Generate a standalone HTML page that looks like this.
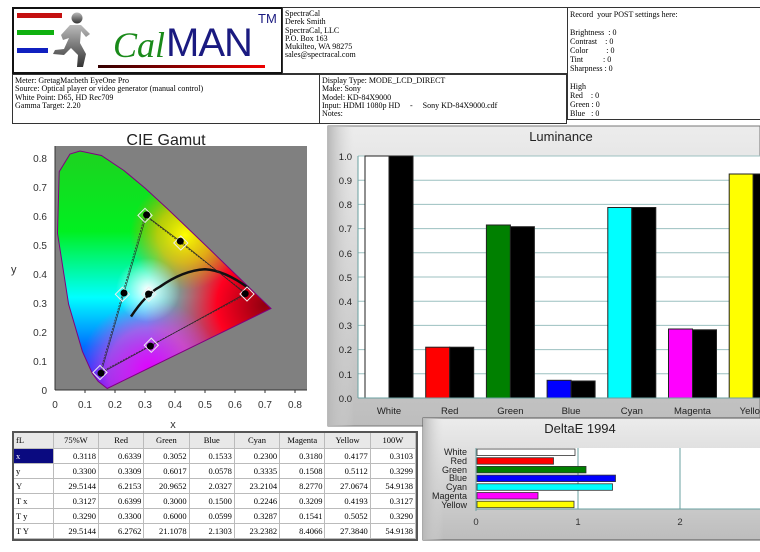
<!DOCTYPE html>
<html><head><meta charset="utf-8"><style>
body{margin:0;width:760px;height:552px;background:#fff;position:relative;overflow:hidden;font-family:"Liberation Serif",serif;}
.box{position:absolute;border:1px solid #333;box-sizing:border-box;font-size:8px;line-height:8.3px;padding:2px 2px;color:#000;white-space:pre;overflow:hidden;}
.r{display:flex;height:15px;line-height:14px;border-bottom:1px solid #bbb;box-sizing:border-box}
.r span{width:45.6px;text-align:right;padding-right:2px;box-sizing:border-box;border-right:1px solid #bbb}
.r span:first-child{width:40px;text-align:left;padding-left:2px}
.h span{text-align:center;padding-right:0}
</style></head><body>
<!-- header boxes -->
<div class="box" style="left:12px;top:7px;width:271px;height:67px;border:2px solid #111;"></div>
<div style="position:absolute;left:17px;top:13px;width:45px;height:5px;background:#c41010"></div>
<div style="position:absolute;left:17px;top:30px;width:37px;height:5px;background:#10b010"></div>
<div style="position:absolute;left:17px;top:48px;width:31px;height:5px;background:#1020c0"></div>
<svg style="position:absolute;left:50px;top:10px" width="45" height="60"><defs><linearGradient id="rg" x1="0" y1="0" x2="0" y2="1"><stop offset="0" stop-color="#bbb"/><stop offset="1" stop-color="#333"/></linearGradient></defs>
<circle cx="27" cy="8" r="5.5" fill="url(#rg)"/><path d="M20 15 L31 15 L40 24 L36 27 L31 21 L30 33 L36 44 L33 57 L27 57 L28 45 L21 38 L14 45 L3 44 L5 40 L14 39 L19 28 L13 30 L11 25 Z" fill="url(#rg)"/></svg>
<div style="position:absolute;left:113px;top:25px;font-family:'Liberation Serif',serif;font-style:italic;font-size:36px;color:#1a8a1a;line-height:40px">Cal</div>
<div style="position:absolute;left:166px;top:21px;font-family:'Liberation Sans',sans-serif;font-size:40px;color:#1a1a80;line-height:44px;letter-spacing:-1px">MAN</div>
<div style="position:absolute;left:258px;top:11px;font-family:'Liberation Sans',sans-serif;font-size:13px;color:#1a1a80">TM</div>
<div style="position:absolute;left:98px;top:65px;width:167px;height:3px;background:linear-gradient(90deg,#300,#e00)"></div>
<div class="box" style="left:282px;top:7px;width:286px;height:67px;">SpectraCal
Derek Smith
SpectraCal, LLC
P.O. Box 163
Mukilteo, WA 98275
sales@spectracal.com</div>
<div class="box" style="left:567px;top:7px;width:193px;height:113px;border-right:none;line-height:9px">Record  your POST settings here:

Brightness  : 0
Contrast    : 0
Color         : 0
Tint          : 0
Sharpness : 0

High
Red    : 0
Green : 0
Blue   : 0</div>
<div class="box" style="left:12px;top:74px;width:308px;height:50px;">Meter: GretagMacbeth EyeOne Pro
Source: Optical player or video generator (manual control)
White Point: D65, HD Rec709
Gamma Target: 2.20</div>
<div class="box" style="left:319px;top:74px;width:248px;height:50px;">Display Type: MODE_LCD_DIRECT
Make: Sony
Model: KD-84X9000
Input: HDMI 1080p HD     -     Sony KD-84X9000.cdf
Notes:</div>

<!-- CIE -->
<svg style="position:absolute;left:0;top:124px" width="325" height="310" font-family="Liberation Sans,sans-serif">
<g transform="translate(0,-124)">
<text x="166" y="145" font-size="16" text-anchor="middle" fill="#222">CIE Gamut</text>
<rect x="55" y="146" width="252" height="244" fill="#808080"/>
<defs>
<clipPath id="hs"><path d="M107.2,388.5 L98.2,381.4 L92.2,373.2 L82.4,351.4 L68.6,304.2 L57.5,233.3 L59.2,171.7 L70,154 L80,151 L101.4,155.5 L123.9,170.5 L145.5,188.5 L166.9,208.3 L188.2,228.6 L208.8,248.4 L227.6,266.6 L243.1,281.6 L254.7,292.8 L271,308.5 Z"/></clipPath>
<linearGradient id="gv" x1="0" y1="0" x2="0" y2="1"><stop offset="0" stop-color="#20d020"/><stop offset="0.35" stop-color="#00f020"/><stop offset="0.62" stop-color="#00ffff"/><stop offset="0.82" stop-color="#0070ff"/><stop offset="1" stop-color="#3000ff"/></linearGradient>
<radialGradient id="gr" cx="265" cy="305" r="120" gradientUnits="userSpaceOnUse"><stop offset="0" stop-color="#900010"/><stop offset="0.4" stop-color="#ff0020"/><stop offset="0.8" stop-color="#ff4040" stop-opacity="0.4"/><stop offset="1" stop-color="#ff4040" stop-opacity="0"/></radialGradient>
<radialGradient id="gm" cx="150" cy="370" r="70" gradientUnits="userSpaceOnUse"><stop offset="0" stop-color="#e000ff"/><stop offset="0.6" stop-color="#ff40e0" stop-opacity="0.6"/><stop offset="1" stop-color="#ff40e0" stop-opacity="0"/></radialGradient>
<radialGradient id="gy" cx="185" cy="235" r="55" gradientUnits="userSpaceOnUse"><stop offset="0" stop-color="#ffff00"/><stop offset="0.5" stop-color="#ffc000" stop-opacity="0.7"/><stop offset="1" stop-color="#ff8000" stop-opacity="0"/></radialGradient>
<radialGradient id="gw" cx="148" cy="290" r="32" gradientUnits="userSpaceOnUse"><stop offset="0" stop-color="#fff"/><stop offset="0.5" stop-color="#fff" stop-opacity="0.5"/><stop offset="1" stop-color="#fff" stop-opacity="0"/></radialGradient>
</defs>
<g clip-path="url(#hs)">
<rect x="55" y="146" width="252" height="244" fill="url(#gv)"/>
<rect x="55" y="146" width="252" height="244" fill="url(#gr)"/>
<rect x="55" y="146" width="252" height="244" fill="url(#gm)"/>
<rect x="55" y="146" width="252" height="244" fill="url(#gy)"/>
<rect x="55" y="146" width="252" height="244" fill="url(#gw)"/>
</g>
<path d="M107.2,388.5 L98.2,381.4 L92.2,373.2 L82.4,351.4 L68.6,304.2 L57.5,233.3 L59.2,171.7 L70,154 L80,151 L101.4,155.5 L123.9,170.5 L145.5,188.5 L166.9,208.3 L188.2,228.6 L208.8,248.4 L227.6,266.6 L243.1,281.6 L254.7,292.8 L271,308.5 Z" fill="none" stroke="#800080" stroke-width="1"/>
<path d="M131,316.6 C140,303 150,292 160,286.7 C175,276 190,270 205,269.2 C220,270 235,278 248.5,288" fill="none" stroke="#111" stroke-width="2.5"/>
<polygon points="247,294 145,215.4 100,372.5" fill="none" stroke="#333" stroke-width="0.8" stroke-dasharray="2,1"/>
<polyline points="145.2,215 180.3,241.2 245.2,293.7 150.4,346.1 101,373.2 124,293 146.6,214.9" fill="none" stroke="#222" stroke-width="0.6"/>
<g fill="none" stroke="#eee" stroke-width="1">
<rect x="242" y="289" width="10" height="10" transform="rotate(45 247 294)"/>
<rect x="140" y="210.4" width="10" height="10" transform="rotate(45 145 215.4)"/>
<rect x="95" y="367.5" width="10" height="10" transform="rotate(45 100 372.5)"/>
<rect x="117.4" y="289.3" width="10" height="10" transform="rotate(45 122.4 294.3)"/>
<rect x="146.3" y="340.2" width="10" height="10" transform="rotate(45 151.3 345.2)"/>
<rect x="175.8" y="238" width="10" height="10" transform="rotate(45 180.8 243)"/>
<rect x="143.8" y="289.3" width="10" height="10" transform="rotate(45 148.8 294.3)"/>
</g>
<g fill="#000"><circle cx="245.2" cy="293.7" r="3.5"/><circle cx="146.6" cy="214.9" r="3.5"/><circle cx="101" cy="373.2" r="3.5"/><circle cx="124" cy="293" r="3.5"/><circle cx="150.4" cy="346.1" r="3.5"/><circle cx="180.3" cy="241.2" r="3.5"/><circle cx="148.5" cy="294" r="3.5"/></g>
<line x1="55" y1="390" x2="307" y2="390" stroke="#333"/>
<line x1="55" y1="146" x2="55" y2="390" stroke="#333"/>
<g font-size="10" fill="#333" text-anchor="middle">
<text x="55" y="408">0</text><text x="85" y="408">0.1</text><text x="115" y="408">0.2</text><text x="145" y="408">0.3</text><text x="175" y="408">0.4</text><text x="205" y="408">0.5</text><text x="235" y="408">0.6</text><text x="265" y="408">0.7</text><text x="295" y="408">0.8</text>
<text x="173" y="428" font-size="11">x</text>
</g>
<g font-size="10" fill="#333" text-anchor="end">
<text x="47" y="394">0</text><text x="47" y="365">0.1</text><text x="47" y="336">0.2</text><text x="47" y="307">0.3</text><text x="47" y="278">0.4</text><text x="47" y="249">0.5</text><text x="47" y="220">0.6</text><text x="47" y="191">0.7</text><text x="47" y="162">0.8</text>
</g>
<text x="11" y="273" font-size="11" fill="#333">y</text>
<g stroke="#333"><line x1="85" y1="390" x2="85" y2="393"/><line x1="115" y1="390" x2="115" y2="393"/><line x1="145" y1="390" x2="145" y2="393"/><line x1="175" y1="390" x2="175" y2="393"/><line x1="205" y1="390" x2="205" y2="393"/><line x1="235" y1="390" x2="235" y2="393"/><line x1="265" y1="390" x2="265" y2="393"/><line x1="295" y1="390" x2="295" y2="393"/></g>
</g></svg>

<!-- Luminance -->
<svg style="position:absolute;left:0;top:0" width="760" height="552" font-family="Liberation Sans,sans-serif">
<defs><linearGradient id="pg" x1="0" y1="0" x2="0" y2="1"><stop offset="0" stop-color="#ececec"/><stop offset="1" stop-color="#bdbdbd"/></linearGradient>
<linearGradient id="pl" x1="0" y1="0" x2="1" y2="0"><stop offset="0" stop-color="#b8b8b8"/><stop offset="0.06" stop-color="#dcdcdc" stop-opacity="0"/></linearGradient></defs>
<rect x="328" y="126" width="432" height="300" fill="url(#pg)" stroke="#777"/>
<rect x="328" y="126" width="432" height="300" fill="url(#pl)"/>
<text x="561" y="141" font-size="13" text-anchor="middle" fill="#222">Luminance</text>
<rect x="358" y="156" width="402" height="242" fill="#fff"/>
<g stroke="#9cc0c0" stroke-width="1">
<line x1="358" y1="156" x2="760" y2="156"/><line x1="358" y1="180.2" x2="760" y2="180.2"/><line x1="358" y1="204.4" x2="760" y2="204.4"/><line x1="358" y1="228.6" x2="760" y2="228.6"/><line x1="358" y1="252.8" x2="760" y2="252.8"/><line x1="358" y1="277" x2="760" y2="277"/><line x1="358" y1="301.2" x2="760" y2="301.2"/><line x1="358" y1="325.4" x2="760" y2="325.4"/><line x1="358" y1="349.6" x2="760" y2="349.6"/><line x1="358" y1="373.8" x2="760" y2="373.8"/>
</g>
<g stroke="#222" stroke-width="1">
<rect x="365" y="156" width="24" height="242" fill="#fff"/><rect x="389" y="156" width="24" height="242" fill="#000"/>
<rect x="425.7" y="347.2" width="24" height="50.8" fill="#f00"/><rect x="449.7" y="347.2" width="24" height="50.8" fill="#000"/>
<rect x="486.4" y="225" width="24" height="173" fill="#008000"/><rect x="510.4" y="226.7" width="24" height="171.3" fill="#000"/>
<rect x="547.1" y="380.3" width="24" height="17.7" fill="#00f"/><rect x="571.1" y="381" width="24" height="17" fill="#000"/>
<rect x="607.8" y="207.5" width="24" height="190.5" fill="#0ff"/><rect x="631.8" y="207.5" width="24" height="190.5" fill="#000"/>
<rect x="668.5" y="329" width="24" height="69" fill="#f0f"/><rect x="692.5" y="329.8" width="24" height="68.2" fill="#000"/>
<rect x="729.2" y="174" width="24" height="224" fill="#ff0"/><rect x="753.2" y="174" width="24" height="224" fill="#000"/>
</g>
<line x1="358" y1="398" x2="760" y2="398" stroke="#6aa0a0"/>
<line x1="358" y1="156" x2="358" y2="398" stroke="#6aa0a0"/>
<g font-size="9.5" fill="#222" text-anchor="end">
<text x="352" y="160">1.0</text><text x="352" y="184">0.9</text><text x="352" y="208">0.8</text><text x="352" y="232">0.7</text><text x="352" y="257">0.6</text><text x="352" y="281">0.5</text><text x="352" y="305">0.4</text><text x="352" y="329">0.3</text><text x="352" y="353">0.2</text><text x="352" y="378">0.1</text><text x="352" y="402">0.0</text>
</g>
<g font-size="9.5" fill="#222" text-anchor="middle">
<text x="389" y="414">White</text><text x="449.7" y="414">Red</text><text x="510.4" y="414">Green</text><text x="571.1" y="414">Blue</text><text x="631.8" y="414">Cyan</text><text x="692.5" y="414">Magenta</text><text x="753.2" y="414">Yellow</text>
</g>

<!-- DeltaE -->
<rect x="423" y="418" width="340" height="122" fill="url(#pg)" stroke="#555"/>
<rect x="423" y="418" width="340" height="122" fill="url(#pl)"/>
<text x="580" y="433" font-size="13" text-anchor="middle" fill="#222">DeltaE 1994</text>
<rect x="476" y="448" width="284" height="61" fill="#fff"/>
<g stroke="#6aa0a0"><line x1="578" y1="448" x2="578" y2="509"/><line x1="680" y1="448" x2="680" y2="509"/><line x1="476" y1="448" x2="476" y2="511"/><line x1="476" y1="509" x2="760" y2="509"/></g>
<g stroke="#333" stroke-width="0.8">
<rect x="477" y="449" width="98" height="6.5" fill="#fff"/>
<rect x="477" y="457.7" width="76.5" height="6.5" fill="#f00"/>
<rect x="477" y="466.4" width="109" height="6.5" fill="#008000"/>
<rect x="477" y="475.1" width="138.5" height="6.5" fill="#00f"/>
<rect x="477" y="483.8" width="135.5" height="6.5" fill="#0ff"/>
<rect x="477" y="492.5" width="61" height="6.5" fill="#f0f"/>
<rect x="477" y="501.2" width="97" height="6.5" fill="#ff0"/>
</g>
<g font-size="9" fill="#222" text-anchor="end">
<text x="467" y="455">White</text><text x="467" y="464">Red</text><text x="467" y="473">Green</text><text x="467" y="481">Blue</text><text x="467" y="490">Cyan</text><text x="467" y="499">Magenta</text><text x="467" y="508">Yellow</text>
</g>
<g font-size="9.5" fill="#333" text-anchor="middle"><text x="476" y="525">0</text><text x="578" y="525">1</text><text x="680" y="525">2</text></g>
</svg>

<!-- Table -->
<div style="position:absolute;left:12px;top:431px;width:406px;height:110px;border:2px solid #555;box-sizing:border-box;font-size:8.5px;font-family:'Liberation Serif',serif;background:#fff">
<div class="r h" style="height:16px;background:#e8e8e8"><span>fL</span><span>75%W</span><span>Red</span><span>Green</span><span>Blue</span><span>Cyan</span><span>Magenta</span><span>Yellow</span><span>100W</span></div>
<div class="r"><span style="background:#0a0a80;color:#fff">x</span><span>0.3118</span><span>0.6339</span><span>0.3052</span><span>0.1533</span><span>0.2300</span><span>0.3180</span><span>0.4177</span><span>0.3103</span></div>
<div class="r"><span>y</span><span>0.3300</span><span>0.3309</span><span>0.6017</span><span>0.0578</span><span>0.3335</span><span>0.1508</span><span>0.5112</span><span>0.3299</span></div>
<div class="r"><span>Y</span><span>29.5144</span><span>6.2153</span><span>20.9652</span><span>2.0327</span><span>23.2104</span><span>8.2770</span><span>27.0674</span><span>54.9138</span></div>
<div class="r"><span>T x</span><span>0.3127</span><span>0.6399</span><span>0.3000</span><span>0.1500</span><span>0.2246</span><span>0.3209</span><span>0.4193</span><span>0.3127</span></div>
<div class="r"><span>T y</span><span>0.3290</span><span>0.3300</span><span>0.6000</span><span>0.0599</span><span>0.3287</span><span>0.1541</span><span>0.5052</span><span>0.3290</span></div>
<div class="r"><span>T Y</span><span>29.5144</span><span>6.2762</span><span>21.1078</span><span>2.1303</span><span>23.2382</span><span>8.4066</span><span>27.3840</span><span>54.9138</span></div>
</div>
</body></html>
